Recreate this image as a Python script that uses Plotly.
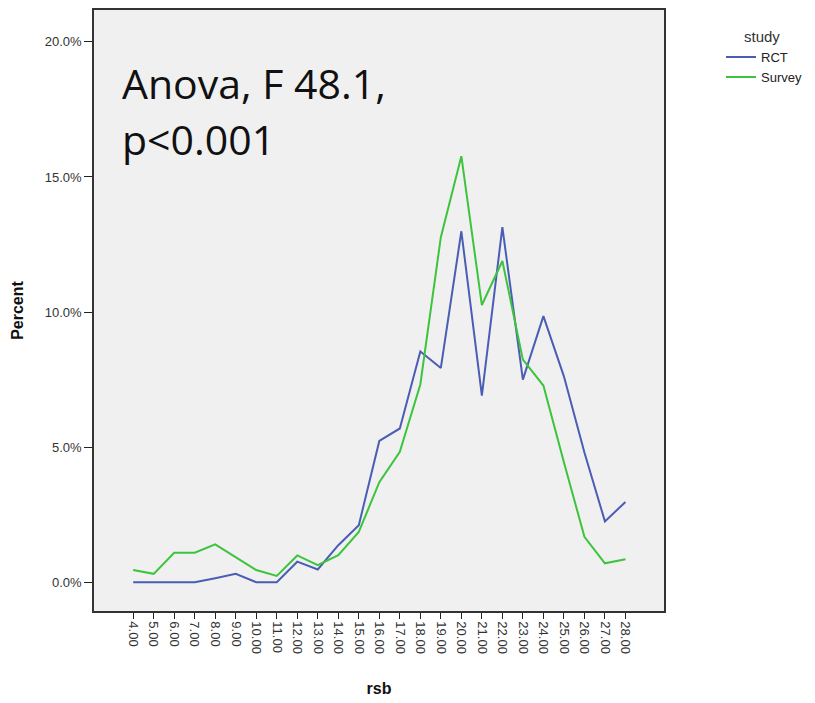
import plotly.graph_objects as go

rsb = [4, 5, 6, 7, 8, 9, 10, 11, 12, 13, 14, 15, 16, 17, 18, 19, 20, 21, 22, 23, 24, 25, 26, 27, 28]
rct = [0.0, 0.0, 0.0, 0.0, 0.15, 0.31, 0.0, 0.0, 0.76, 0.47, 1.37, 2.11, 5.23, 5.69, 8.54, 7.93,
       12.99, 6.91, 13.14, 7.50, 9.85, 7.62, 4.80, 2.25, 2.97]
survey = [0.45, 0.31, 1.09, 1.09, 1.40, 0.92, 0.45, 0.23, 0.99, 0.63, 1.00, 1.86, 3.70, 4.83, 7.32,
          12.77, 15.77, 10.26, 11.89, 8.24, 7.28, 4.44, 1.68, 0.70, 0.85]
y_ticks = [0, 5, 10, 15, 20]
y_ticktext = ["0.0%", "5.0%", "10.0%", "15.0%", "20.0%"]
note_lines = ["Anova, F 48.1,", "p<0.001"]

fig = go.Figure()
fig.add_trace(go.Scatter(x=rsb, y=rct, mode="lines", name="RCT",
                         line=dict(color="#4a5db5", width=2)))
fig.add_trace(go.Scatter(x=rsb, y=survey, mode="lines", name="Survey",
                         line=dict(color="#3cc43c", width=2)))

for i, line in enumerate(note_lines):
    fig.add_annotation(text=line, xref="paper", yref="paper",
                       x=(120 - 94) / 572, y=(613 - 81 - 57 * i) / 605,
                       xanchor="left", yanchor="middle",
                       showarrow=False, align="left",
                       font=dict(family="Open Sans", size=41, color="#111"))

fig.update_layout(
    width=815, height=703,
    margin=dict(l=94, r=149, t=8, b=90),
    paper_bgcolor="white", plot_bgcolor="#f0f0f0",
    font=dict(family="Liberation Sans, Arial", size=13, color="#333"),
    showlegend=True,
    legend=dict(x=1.1, y=0.979, xanchor="left", yanchor="top",
                title=dict(text="study ", side="top center", font=dict(size=15, color="#333")),
                itemwidth=30, font=dict(size=13, color="#222"), tracegroupgap=0,
                bgcolor="rgba(0,0,0,0)"),
    xaxis=dict(range=[2.09, 29.88], tickvals=rsb, tickformat=".2f", tickangle=90,
               ticks="outside", ticklen=6, tickcolor="#222", tickwidth=1.3,
               showgrid=False, zeroline=False, showline=True, mirror=True,
               linecolor="#333", linewidth=1.5,
               tickfont=dict(size=13, color="#333"),
               title=dict(text="<b>rsb</b>", font=dict(size=16, color="#111"), standoff=30)),
    yaxis=dict(range=[-1.066, 21.18], tickvals=y_ticks, ticktext=y_ticktext,
               ticks="outside", ticklen=8, tickcolor="#222", tickwidth=1.3,
               showgrid=False, zeroline=False, showline=True, mirror=True,
               linecolor="#333", linewidth=1.5,
               tickfont=dict(size=13, color="#333"),
               title=dict(text="<b>Percent</b>", font=dict(size=16, color="#111"), standoff=17)),
)

fig.write_html("out.html")
